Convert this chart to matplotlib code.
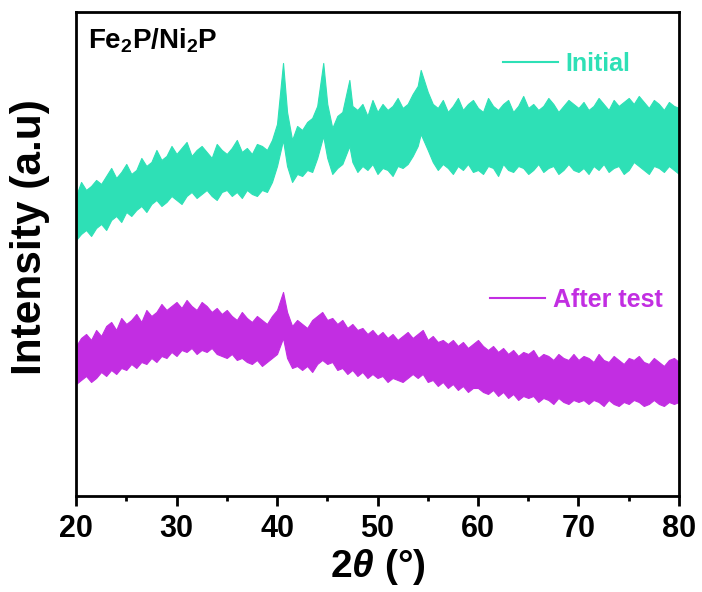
import matplotlib
matplotlib.use("Agg")
import matplotlib.pyplot as plt
from matplotlib.ticker import MultipleLocator

# 2theta positions (deg) and band edges (arbitrary units)
x_init = [20, 20.5, 21, 21.5, 22, 22.5, 23, 23.5, 24, 24.5, 25, 25.5, 26, 26.5, 27, 27.5, 28, 28.5, 29, 29.5,
          30, 30.5, 31, 31.5, 32, 32.5, 33, 33.5, 34, 34.5, 35, 35.5, 36, 36.5, 37, 37.5, 38, 38.5, 39, 39.5,
          40, 40.6, 41, 41.5, 42, 42.5, 43, 43.5, 44, 44.6, 45, 45.5, 46, 46.5, 47.2, 47.5, 48, 48.5, 49, 49.5,
          50, 50.5, 51, 51.5, 52, 52.5, 53, 53.5, 54, 54.3, 55, 55.5, 56, 56.5, 57, 57.5, 58, 58.5, 59, 59.5,
          60, 60.5, 61, 61.5, 62, 62.5, 63, 63.5, 64, 64.5, 65, 65.5, 66, 66.5, 67, 67.5, 68, 68.5, 69, 69.5,
          70, 70.5, 71, 71.5, 72, 72.5, 73, 73.5, 74, 74.5, 75, 75.5, 76, 76.5, 77, 77.5, 78, 78.5, 79, 79.5, 80]
init_upper = [300, 314, 306, 310, 316, 312, 320, 328, 318, 324, 332, 322, 326, 338, 330, 334, 346, 336, 340, 350,
              342, 348, 354, 340, 346, 350, 344, 338, 352, 346, 342, 348, 356, 344, 348, 342, 352, 350, 346, 356,
              372, 433, 384, 356, 370, 366, 374, 378, 390, 433, 392, 368, 380, 384, 416, 390, 386, 392, 380, 396,
              384, 392, 386, 390, 398, 388, 392, 402, 410, 426, 404, 392, 388, 396, 384, 390, 398, 386, 392, 396,
              388, 384, 398, 390, 386, 392, 396, 384, 390, 400, 388, 392, 386, 390, 398, 392, 384, 390, 396, 392,
              388, 394, 386, 390, 398, 392, 386, 396, 390, 394, 398, 392, 400, 394, 388, 396, 392, 386, 394, 390, 388]
init_lower = [256, 262, 266, 260, 268, 272, 266, 276, 280, 274, 284, 280, 286, 290, 284, 292, 296, 290, 294, 300,
              296, 292, 300, 304, 298, 302, 306, 300, 296, 304, 306, 300, 304, 298, 306, 302, 300, 306, 304, 314,
              330, 356, 330, 314, 322, 320, 326, 324, 338, 360, 338, 322, 328, 332, 350, 334, 324, 330, 326, 332,
              322, 328, 326, 320, 330, 328, 332, 340, 350, 362, 346, 334, 326, 332, 328, 322, 330, 326, 332, 324,
              326, 322, 330, 328, 320, 332, 326, 324, 330, 328, 322, 326, 332, 324, 328, 330, 322, 326, 332, 326,
              324, 328, 322, 330, 326, 332, 324, 328, 330, 322, 326, 334, 330, 326, 322, 330, 328, 324, 330, 326, 322]

x_after = [20, 20.5, 21, 21.5, 22, 22.5, 23, 23.5, 24, 24.5, 25, 25.5, 26, 26.5, 27, 27.5, 28, 28.5, 29, 29.5,
           30, 30.5, 31, 31.5, 32, 32.5, 33, 33.5, 34, 34.5, 35, 35.5, 36, 36.5, 37, 37.5, 38, 38.5, 39, 39.5,
           40, 40.6, 41, 41.5, 42, 42.5, 43, 43.5, 44, 44.5, 45, 45.5, 46, 46.5, 47, 47.5, 48, 48.5, 49, 49.5,
           50, 50.5, 51, 51.5, 52, 52.5, 53, 53.5, 54, 54.5, 55, 55.5, 56, 56.5, 57, 57.5, 58, 58.5, 59, 59.5,
           60, 60.5, 61, 61.5, 62, 62.5, 63, 63.5, 64, 64.5, 65, 65.5, 66, 66.5, 67, 67.5, 68, 68.5, 69, 69.5,
           70, 70.5, 71, 71.5, 72, 72.5, 73, 73.5, 74, 74.5, 75, 75.5, 76, 76.5, 77, 77.5, 78, 78.5, 79, 79.5, 80]
after_upper = [150, 158, 162, 156, 166, 160, 170, 174, 166, 178, 172, 176, 182, 174, 186, 180, 184, 192, 186, 190,
               194, 188, 196, 190, 186, 194, 190, 184, 188, 182, 186, 180, 176, 184, 178, 174, 180, 176, 172, 180,
               186, 204, 184, 170, 176, 172, 168, 176, 180, 184, 176, 178, 172, 176, 168, 172, 166, 168, 162, 166,
               160, 164, 158, 162, 156, 160, 164, 158, 162, 166, 156, 160, 154, 156, 152, 156, 150, 154, 148, 152,
               156, 150, 146, 150, 144, 148, 142, 146, 140, 144, 142, 146, 138, 142, 140, 136, 142, 138, 136, 142,
               136, 140, 138, 134, 142, 136, 134, 140, 136, 132, 138, 136, 140, 134, 132, 138, 134, 130, 136, 138, 134]
after_lower = [112, 116, 120, 114, 118, 124, 120, 126, 122, 128, 126, 132, 128, 134, 132, 138, 134, 140, 138, 144,
               140, 146, 144, 148, 142, 146, 144, 148, 142, 140, 138, 142, 136, 138, 134, 132, 136, 130, 134, 138,
               142, 158, 138, 128, 130, 126, 130, 124, 132, 136, 132, 134, 126, 128, 122, 126, 120, 124, 118, 122,
               118, 120, 114, 118, 116, 114, 118, 122, 118, 122, 114, 116, 110, 114, 108, 112, 106, 110, 104, 108,
               108, 104, 102, 106, 100, 104, 98, 102, 96, 100, 98, 100, 94, 98, 96, 92, 98, 94, 92, 96,
               94, 96, 92, 96, 94, 90, 96, 92, 90, 94, 92, 96, 94, 90, 92, 96, 92, 90, 94, 92, 94]

c_init = "#2EE0B6"
c_after = "#C22EE2"

plt.rcParams["font.family"] = ["Liberation Sans", "DejaVu Sans"]
plt.rcParams["font.weight"] = "bold"
plt.rcParams["mathtext.fontset"] = "custom"
plt.rcParams["mathtext.it"] = "Liberation Sans:italic:bold"
plt.rcParams["mathtext.rm"] = "Liberation Sans:bold"

fig = plt.figure(figsize=(7.02, 5.92), dpi=100)
ax = fig.add_axes([0.1083, 0.1622, 0.8589, 0.8176])

ax.fill_between(x_init, init_lower, init_upper, color=c_init, lw=0.8, edgecolor=c_init)
ax.fill_between(x_after, after_lower, after_upper, color=c_after, lw=0.8, edgecolor=c_after)

h1, = ax.plot([], [], color=c_init, lw=1.5, label="Initial")
h2, = ax.plot([], [], color=c_after, lw=1.5, label="After test")

leg1 = ax.legend(handles=[h1], loc="center left", bbox_to_anchor=(0.708, 0.893), frameon=False,
                 fontsize=18, handlelength=2.2, handletextpad=0.3, borderpad=0, borderaxespad=0,
                 labelcolor="linecolor")
ax.add_artist(leg1)
ax.legend(handles=[h2], loc="center left", bbox_to_anchor=(0.687, 0.405), frameon=False,
          fontsize=18, handlelength=2.2, handletextpad=0.3, borderpad=0, borderaxespad=0,
          labelcolor="linecolor")

ax.text(0.02, 0.97, r"Fe$_\mathregular{2}$P/Ni$_\mathregular{2}$P", transform=ax.transAxes,
        fontsize=20, fontweight="bold", va="top", ha="left")

ax.set_xlim(20, 80)
ax.set_ylim(0, 484)
ax.xaxis.set_major_locator(MultipleLocator(10))
ax.xaxis.set_minor_locator(MultipleLocator(5))
ax.set_yticks([])
ax.tick_params(axis="x", which="major", direction="out", length=7, width=2, pad=6)
ax.tick_params(axis="x", which="minor", direction="out", length=3.5, width=2)
for lab in ax.get_xticklabels():
    lab.set_fontsize(22)
    lab.set_fontweight("bold")
for s in ax.spines.values():
    s.set_linewidth(2)

ax.set_xlabel(r"2$\theta$ (°)", fontsize=28, fontweight="bold", labelpad=2)
ax.set_ylabel("Intensity (a.u)", fontsize=30.5, fontweight="bold")
ax.yaxis.set_label_coords(-0.043, 0.535)

fig.savefig("out.png", dpi=100)
